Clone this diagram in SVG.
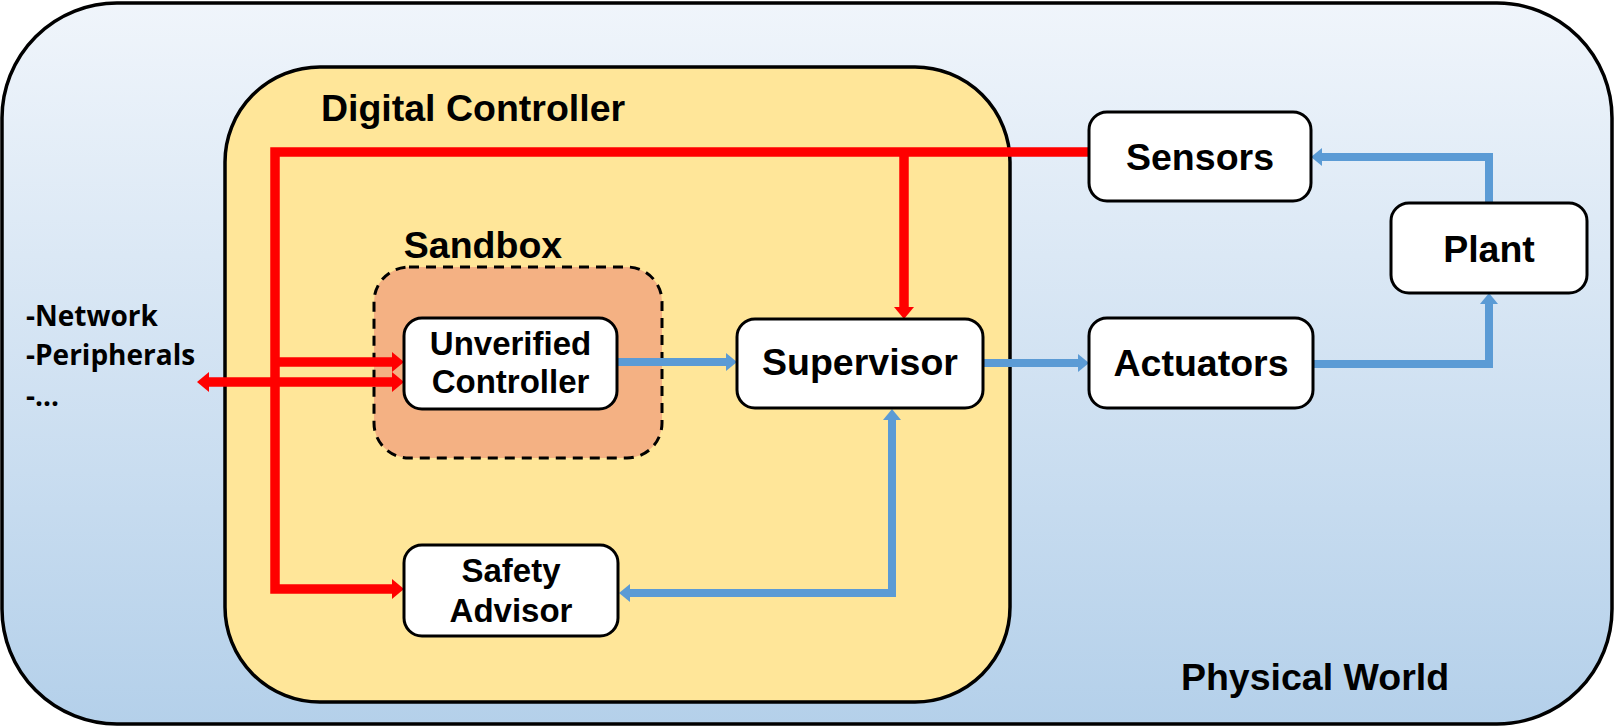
<svg xmlns="http://www.w3.org/2000/svg" width="1615" height="728" viewBox="0 0 1615 728">
  <defs>
    <linearGradient id="bg" x1="0" y1="0" x2="0" y2="1">
      <stop offset="0" stop-color="#f0f5fb"/>
      <stop offset="1" stop-color="#b4d0ea"/>
    </linearGradient>
    <marker id="ar" markerUnits="userSpaceOnUse" markerWidth="12" markerHeight="20" refX="0" refY="10" orient="auto-start-reverse">
      <path d="M0,0 L12,10 L0,20 Z" fill="#ff0000"/>
    </marker>
    <marker id="ab" markerUnits="userSpaceOnUse" markerWidth="11" markerHeight="18" refX="0" refY="9" orient="auto-start-reverse">
      <path d="M0,0 L11,9 L0,18 Z" fill="#5b9bd5"/>
    </marker>
  </defs>
  <style>
    .box { fill: #ffffff; stroke: #000000; stroke-width: 3; }
    .lbl { font-family: "Liberation Sans", Arial, sans-serif; font-weight: bold; fill: #000000; text-anchor: middle; }
    .red { fill: none; stroke: #ff0000; stroke-width: 9.5; }
    .blue { fill: none; stroke: #5b9bd5; stroke-width: 8; }
    .side { font-family: "Open Sans", "Liberation Sans", sans-serif; font-weight: bold; font-size: 28px; fill: #000000; }
  </style>

  <g id="physical-world">
    <rect x="2" y="3" width="1610" height="721" rx="115" ry="115" fill="url(#bg)" stroke="#000000" stroke-width="3.5"/>
    <text class="lbl" x="1315" y="690" font-size="37.5">Physical World</text>
  </g>

  <g id="digital-controller">
    <rect x="225" y="67" width="785" height="635" rx="95" ry="95" fill="#ffe699" stroke="#000000" stroke-width="3.5"/>
    <text class="lbl" x="473" y="121" font-size="37.5">Digital Controller</text>
  </g>

  <g id="sandbox">
    <rect x="374" y="267" width="288" height="191" rx="35" ry="35" fill="#f4b183" stroke="#000000" stroke-width="3" stroke-dasharray="10,7"/>
    <text class="lbl" x="483" y="258" font-size="37.5">Sandbox</text>
  </g>

  <g id="side-labels">
    <text class="side" x="26" y="326">-Network</text>
    <text class="side" x="26" y="365">-Peripherals</text>
    <text class="side" x="26" y="406">-...</text>
  </g>

  <g id="connectors">
    <path class="red" d="M1089,152 H275 V589 H392" marker-end="url(#ar)"/>
    <path class="red" d="M904,152 V307" marker-end="url(#ar)"/>
    <path class="red" d="M275,362 H392" marker-end="url(#ar)"/>
    <path class="red" d="M209,382 H392" marker-start="url(#ar)" marker-end="url(#ar)"/>
    <path class="blue" d="M617,362 H726" marker-end="url(#ab)"/>
    <path class="blue" d="M983,363 H1078" marker-end="url(#ab)"/>
    <path class="blue" d="M1313,364 H1489 V304" marker-end="url(#ab)"/>
    <path class="blue" d="M1489,203 V157 H1322" marker-end="url(#ab)"/>
    <path class="blue" d="M630,593 H892 V420" marker-start="url(#ab)" marker-end="url(#ab)"/>
  </g>

  <g id="unverified-controller">
    <rect class="box" x="404" y="318" width="213" height="91" rx="18" ry="18"/>
    <text class="lbl" x="510.5" y="355" font-size="33">Unverified</text>
    <text class="lbl" x="510.5" y="393" font-size="33">Controller</text>
  </g>

  <g id="supervisor">
    <rect class="box" x="737" y="319" width="246" height="89" rx="18" ry="18"/>
    <text class="lbl" x="860" y="375" font-size="37.5">Supervisor</text>
  </g>

  <g id="safety-advisor">
    <rect class="box" x="404" y="545" width="214" height="91" rx="18" ry="18"/>
    <text class="lbl" x="511" y="582" font-size="33">Safety</text>
    <text class="lbl" x="511" y="622" font-size="33">Advisor</text>
  </g>

  <g id="sensors">
    <rect class="box" x="1089" y="112" width="222" height="89" rx="18" ry="18"/>
    <text class="lbl" x="1200" y="170" font-size="37.5">Sensors</text>
  </g>

  <g id="plant">
    <rect class="box" x="1391" y="203" width="196" height="90" rx="18" ry="18"/>
    <text class="lbl" x="1489" y="262" font-size="37.5">Plant</text>
  </g>

  <g id="actuators">
    <rect class="box" x="1089" y="318" width="224" height="90" rx="18" ry="18"/>
    <text class="lbl" x="1201" y="376" font-size="37.5">Actuators</text>
  </g>
</svg>
